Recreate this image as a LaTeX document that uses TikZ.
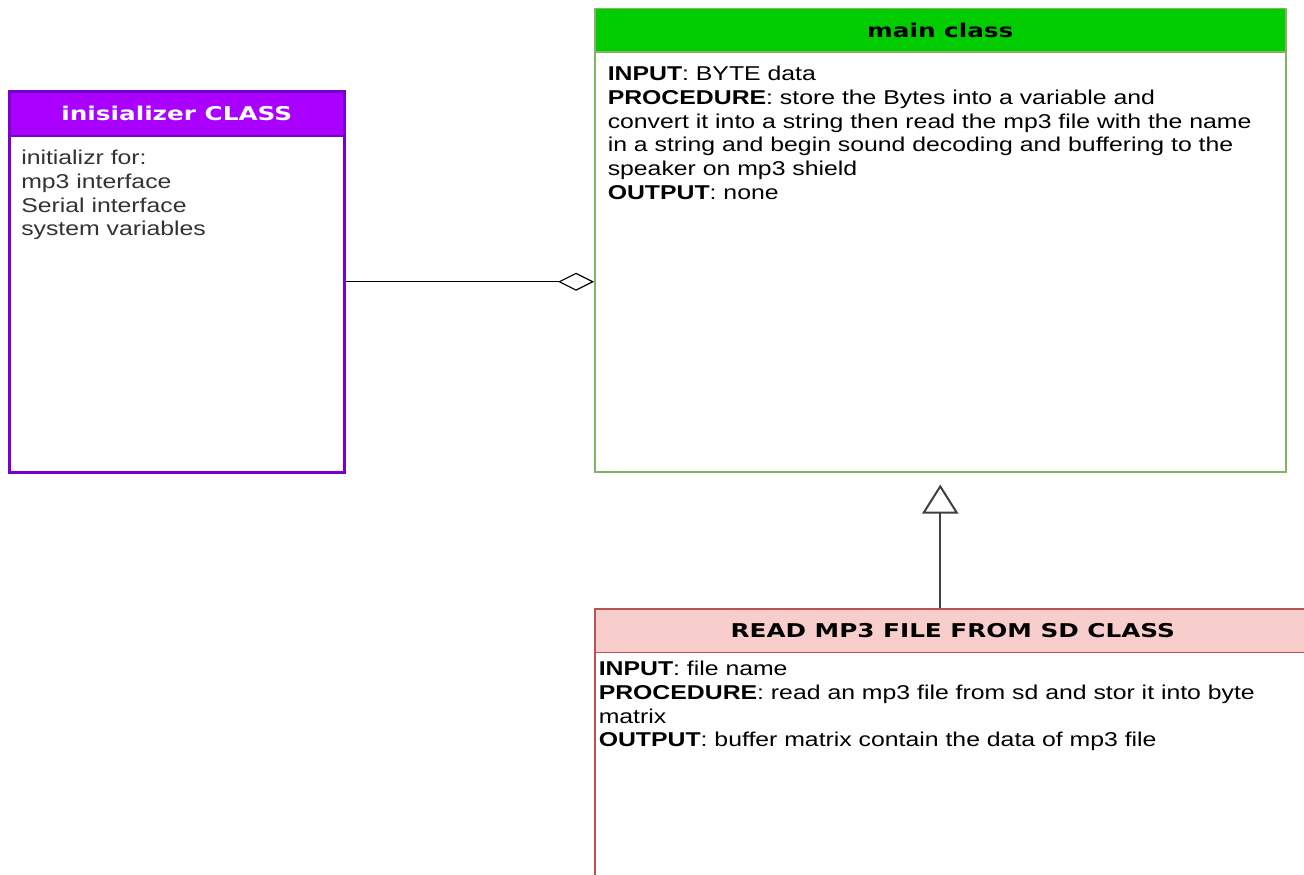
\documentclass[tikz,border=0pt]{standalone}
\usepackage{fontspec}
\setmainfont{Liberation Sans}[FakeStretch=1.24]
\newfontfamily\headfont{DejaVu Sans}[FakeStretch=1.3]
\usetikzlibrary{arrows.meta, shapes.multipart}
\definecolor{initPurple}{HTML}{AA00FF}
\definecolor{initBorder}{HTML}{7A00CC}
\definecolor{mainGreen}{HTML}{00CC00}
\definecolor{mainBorder}{HTML}{82B366}
\definecolor{sdPink}{HTML}{F8CECC}
\definecolor{sdBorder}{HTML}{B85450}
\definecolor{textGrey}{HTML}{333333}
\newcommand{\classHead}[3]{\parbox[c][#2]{#1}{\centering\headfont\fontsize{19}{22}\selectfont\bfseries #3}}
\newcommand{\classBody}[5]{\parbox[t][#2][t]{#1}{\vspace*{#4}\hspace*{#3}\parbox[t]{\dimexpr#1-#3\relax}{\raggedright\fontsize{20}{23.8}\selectfont #5}}}
\tikzstyle{cClass} = [rectangle split, rectangle split parts=2, inner sep=0pt, anchor=north west]
\tikzstyle{cInit} = [cClass, draw=initBorder, line width=2.5pt, rectangle split part fill={initPurple, white}]
\tikzstyle{cMain} = [cClass, draw=mainBorder, line width=1.5pt, rectangle split part fill={mainGreen, white}]
\tikzstyle{cReadSD} = [cClass, draw=sdBorder, line width=1.5pt, rectangle split part fill={sdPink, white}]
\tikzstyle{cAggregation} = [line width=1.2pt, -{Diamond[open, length=36pt, width=18pt]}]
\tikzstyle{cInherit} = [line width=2pt, draw=black!75, -{Triangle[open, length=29pt, width=36pt]}, shorten >=12pt]

\begin{document}
\begin{tikzpicture}[x=1pt, y=-1pt]
    \useasboundingbox (0,0) rectangle (1304,875);
    \node (init) [cInit] at (8,90) {\classHead{335pt}{42pt}{\color{white}inisializer CLASS}
        \nodepart{two}\classBody{335pt}{334pt}{12pt}{13pt}{\color{textGrey}initializr for:\\ mp3 interface\\ Serial interface\\ system variables}};
    \node (main) [cMain] at (594,8) {\classHead{691pt}{42pt}{main class}
        \nodepart{two}\classBody{691pt}{418pt}{13pt}{13pt}{\textbf{INPUT}: BYTE data\\ \textbf{PROCEDURE}: store the Bytes into a variable and\\ convert it into a string then read the mp3 file with the name\\ in a string and begin sound decoding and buffering to the\\ speaker on mp3 shield\\ \textbf{OUTPUT}: none}};
    \node (readsd) [cReadSD] at (594,608) {\classHead{716pt}{42pt}{READ MP3 FILE FROM SD CLASS}
        \nodepart{two}\classBody{716pt}{224pt}{4pt}{8pt}{\textbf{INPUT}: file name\\ \textbf{PROCEDURE}: read an mp3 file from sd and stor it into byte\\ matrix\\ \textbf{OUTPUT}: buffer matrix contain the data of mp3 file}};

    \draw [cAggregation] (init.east) -- (init.east -| main.west);
    \draw [cInherit] (readsd.north -| main.south) -- (main.south);
\end{tikzpicture}
\end{document}
